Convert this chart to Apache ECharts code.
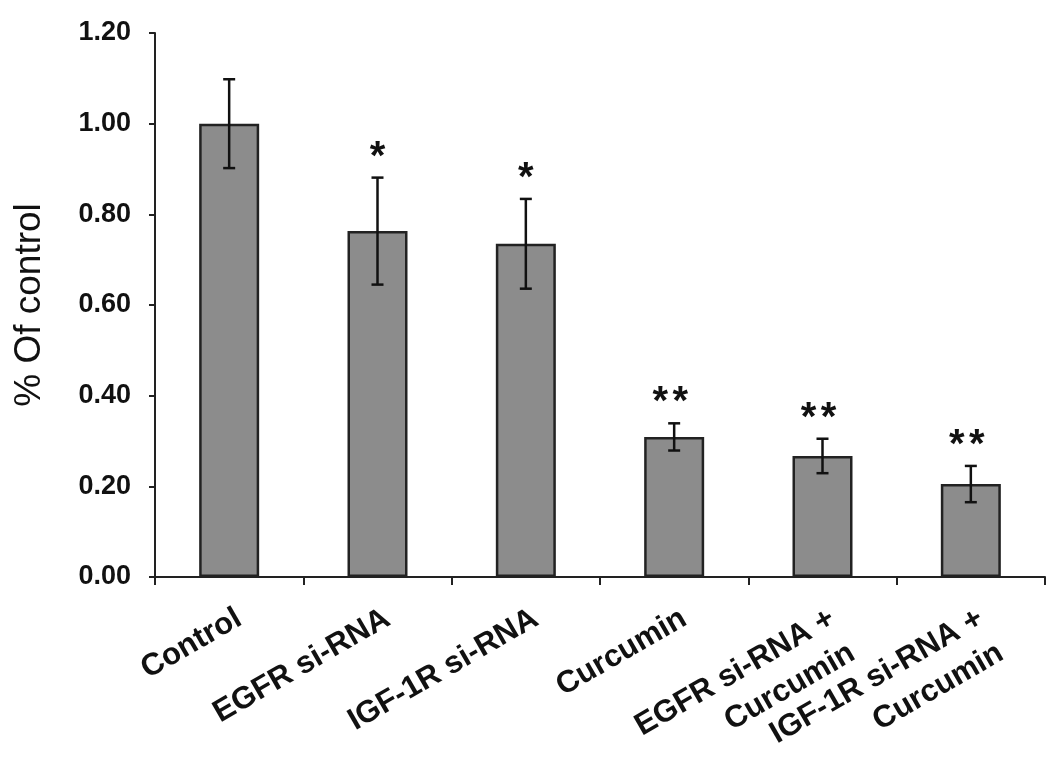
<!DOCTYPE html>
<html>
<head>
<meta charset="utf-8">
<script src="https://cdn.jsdelivr.net/npm/echarts@6/dist/echarts.min.js"></script>
<style>
  html, body { margin: 0; padding: 0; background: #fff; }
  #container { width: 1050px; height: 768px; }
</style>
</head>
<body>
<div id="container"></div>
<script>
// data
const categories = ['Control', 'EGFR si-RNA', 'IGF-1R si-RNA', 'Curcumin', 'EGFR si-RNA +\nCurcumin', 'IGF-1R si-RNA +\nCurcumin'];
const means = [1.00, 0.763, 0.735, 0.309, 0.267, 0.205];
const errors = [0.098, 0.118, 0.099, 0.030, 0.038, 0.040];
const marks = ['', '*', '*', '**', '**', '**'];

const font = "'Liberation Sans', Arial, sans-serif";

let dom = document.getElementById('container');
let myChart = echarts.init(dom);

// error bars + significance stars
function renderError(params, api) {
    let i = api.value(0);
    let m = api.value(1);
    let e = api.value(2);
    let top = api.coord([i, m + e]);
    let bot = api.coord([i, m - e]);
    let cap = 6;
    let st = { stroke: '#111', lineWidth: 2.5 };
    let children = [
        { type: 'line', shape: { x1: top[0], y1: top[1], x2: bot[0], y2: bot[1] }, style: st },
        { type: 'line', shape: { x1: top[0] - cap, y1: top[1], x2: top[0] + cap, y2: top[1] }, style: st },
        { type: 'line', shape: { x1: bot[0] - cap, y1: bot[1], x2: bot[0] + cap, y2: bot[1] }, style: st }
    ];
    let mk = marks[params.dataIndex];
    for (let k = 0; k < mk.length; k++) {
        children.push({
            type: 'text',
            x: top[0] + (k - (mk.length - 1) / 2) * 20 - (mk.length > 1 ? 4 : 0),
            y: top[1] - 20,
            style: {
                text: mk[k],
                fill: '#111',
                font: 'bold 40px ' + font,
                align: 'center',
                verticalAlign: 'middle'
            }
        });
    }
    return { type: 'group', children: children };
}

let option = {
    backgroundColor: '#fff',
    animation: false,
    grid: { left: 155, right: 5, top: 33, bottom: 191, outerBoundsMode: 'none', containLabel: false },
    xAxis: {
        type: 'category',
        data: categories,
        axisLine: { lineStyle: { color: '#222', width: 2 } },
        axisTick: { show: true, length: 8, lineStyle: { color: '#222', width: 2 } },
        axisLabel: {
            rotate: 30,
            interval: 0,
            margin: 22,
            align: 'right',
            verticalAlign: 'top',
            color: '#111',
            fontFamily: font,
            fontWeight: 'bold',
            fontSize: 31,
            lineHeight: 40
        }
    },
    yAxis: {
        type: 'value',
        min: 0,
        max: 1.2,
        interval: 0.2,
        name: '% Of control',
        nameLocation: 'middle',
        nameGap: 107,
        nameTextStyle: { color: '#111', fontFamily: font, fontSize: 37 },
        axisLine: { show: true, lineStyle: { color: '#222', width: 2 } },
        axisTick: { show: true, length: 6, lineStyle: { color: '#222', width: 2 } },
        splitLine: { show: false },
        axisLabel: {
            margin: 24,
            color: '#111',
            fontFamily: font,
            fontWeight: 'bold',
            fontSize: 27,
            formatter: function (v) { return v.toFixed(2); }
        }
    },
    series: [{
        type: 'bar',
        data: means,
        barWidth: 60,
        itemStyle: { color: '#8c8c8c', borderColor: '#222', borderWidth: 2.5 }
    }, {
        type: 'custom',
        renderItem: renderError,
        data: means.map(function (m, i) { return [i, m, errors[i]]; }),
        z: 5
    }]
};

myChart.setOption(option);
</script>
</body>
</html>
